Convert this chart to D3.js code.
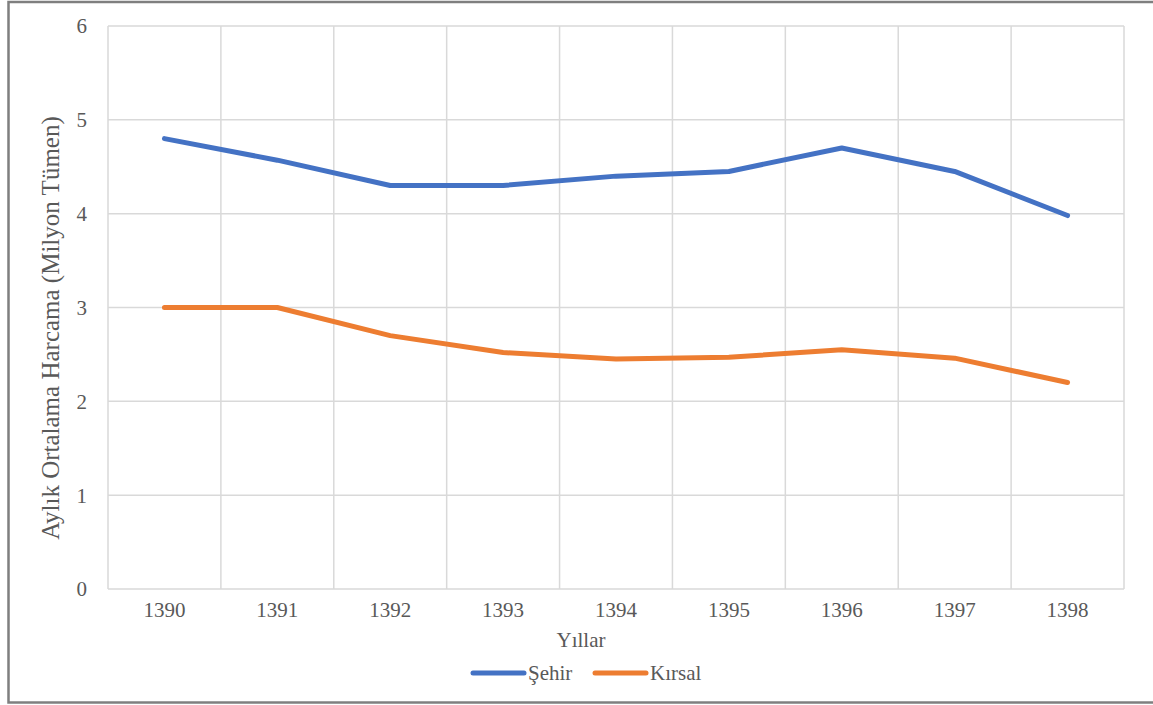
<!DOCTYPE html>
<html>
<head>
<meta charset="utf-8">
<script src="https://cdn.jsdelivr.net/npm/d3@7"></script>
<style>
  body { margin: 0; background: #fff; }
</style>
</head>
<body>
<div id="vis"></div>
<script>
// data
let years = ['1390', '1391', '1392', '1393', '1394', '1395', '1396', '1397', '1398'];
let sehir = [4.8, 4.57, 4.3, 4.3, 4.4, 4.45, 4.7, 4.45, 3.98];
let kirsal = [3.0, 3.0, 2.7, 2.52, 2.45, 2.47, 2.55, 2.46, 2.2];
let yTicks = [0, 1, 2, 3, 4, 5, 6];
let seriesNames = ['Şehir', 'Kırsal'];
let colors = ['#4472C4', '#ED7D31'];

let W = 1153, H = 705;
let margin = { top: 26, left: 108, right: 29, bottom: 116 };
let textStyle = 'font-family: Liberation Serif, Tinos, Times New Roman, serif; font-size: 21px; fill: #595959;';

let svg = d3
  .select('#vis')
  .append('svg')
  .attr('width', W)
  .attr('height', H);

// chart frame (right edge runs off the picture)
svg.append('rect')
  .attr('x', 8.5)
  .attr('y', 2)
  .attr('width', 1160)
  .attr('height', 700.5)
  .attr('fill', 'white')
  .attr('stroke', '#7f7f7f')
  .attr('stroke-width', 2.5);

let x = d3.scaleBand()
  .domain(years)
  .range([margin.left, W - margin.right]);

let y = d3.scaleLinear()
  .domain([0, 6])
  .range([H - margin.bottom, margin.top]);

// horizontal gridlines
svg.append('g')
  .selectAll('line')
  .data(yTicks)
  .join('line')
  .attr('x1', margin.left)
  .attr('x2', W - margin.right)
  .attr('y1', d => y(d))
  .attr('y2', d => y(d))
  .attr('stroke', '#d9d9d9')
  .attr('stroke-width', 1.5);

// vertical gridlines at category boundaries
let bounds = years.map(d => x(d)).concat([x(years[years.length - 1]) + x.bandwidth()]);
svg.append('g')
  .selectAll('line')
  .data(bounds)
  .join('line')
  .attr('x1', d => d)
  .attr('x2', d => d)
  .attr('y1', y(6))
  .attr('y2', y(0))
  .attr('stroke', '#d9d9d9')
  .attr('stroke-width', 1.5);

// y tick labels
svg.append('g')
  .selectAll('text')
  .data(yTicks)
  .join('text')
  .attr('x', 87)
  .attr('y', d => y(d))
  .attr('dy', '0.35em')
  .attr('text-anchor', 'end')
  .attr('style', textStyle)
  .text(d => d);

// x tick labels
svg.append('g')
  .selectAll('text')
  .data(years)
  .join('text')
  .attr('x', d => x(d) + x.bandwidth() / 2)
  .attr('y', 610)
  .attr('dy', '0.35em')
  .attr('text-anchor', 'middle')
  .attr('style', textStyle)
  .text(d => d);

// axis titles
svg.append('text')
  .attr('x', 581)
  .attr('y', 640)
  .attr('dy', '0.35em')
  .attr('text-anchor', 'middle')
  .attr('style', textStyle)
  .text('Yıllar');

svg.append('text')
  .attr('transform', 'translate(50,328) rotate(-90)')
  .attr('dy', '0.35em')
  .attr('text-anchor', 'middle')
  .attr('style', textStyle)
  .style('font-size', '25px')
  .text('Aylık Ortalama Harcama (Milyon Tümen)');

// lines
let line = d3.line()
  .x((d, i) => x(years[i]) + x.bandwidth() / 2)
  .y(d => y(d));

[sehir, kirsal].forEach((s, i) => {
  svg.append('path')
    .datum(s)
    .attr('d', line)
    .attr('fill', 'none')
    .attr('stroke', colors[i])
    .attr('stroke-width', 5)
    .attr('stroke-linecap', 'round')
    .attr('stroke-linejoin', 'round');
});

// legend
let legendX = [473, 595];
let legend = svg.append('g')
  .selectAll('g')
  .data(seriesNames)
  .join('g')
  .attr('transform', (d, i) => 'translate(' + legendX[i] + ',673)');

legend.append('line')
  .attr('x1', 0)
  .attr('x2', 51)
  .attr('stroke', (d, i) => colors[i])
  .attr('stroke-width', 5)
  .attr('stroke-linecap', 'round');

legend.append('text')
  .attr('x', 55)
  .attr('dy', '0.35em')
  .attr('style', textStyle)
  .text(d => d);
</script>
</body>
</html>
